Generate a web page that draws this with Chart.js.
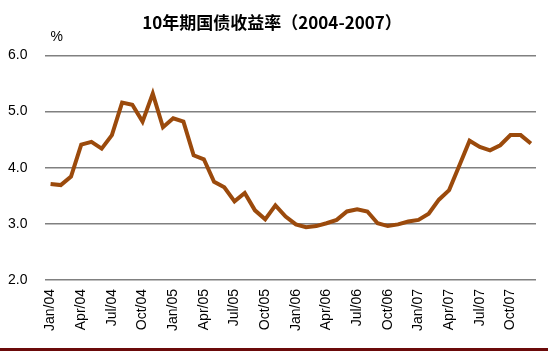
<!DOCTYPE html>
<html>
<head>
<meta charset="utf-8">
<script src="https://cdn.jsdelivr.net/npm/chart.js@4/dist/chart.umd.min.js"></script>
<style>
  html, body { margin: 0; padding: 0; background: #fff; }
  #wrap { position: relative; width: 548px; height: 352px; }
  #bar { position: absolute; left: 0; top: 348px; width: 548px; height: 3px; background: #6b0a0a; }
</style>
</head>
<body>
<div id="wrap">
  <canvas id="graph" width="548" height="346"></canvas>
  <div id="bar"></div>
</div>
<script>
// months Jan/04 .. Dec/07
var months = ['Jan', 'Feb', 'Mar', 'Apr', 'May', 'Jun', 'Jul', 'Aug', 'Sep', 'Oct', 'Nov', 'Dec'];
var years = ['04', '05', '06', '07'];
var categories = [];
years.forEach(function (y) {
    months.forEach(function (m) { categories.push(m + '/' + y); });
});

// 10年期国债收益率 (%)
var yields = [
    3.71, 3.69, 3.84, 4.41, 4.46, 4.34, 4.58, 5.16, 5.12, 4.82, 5.32, 4.72,
    4.88, 4.82, 4.22, 4.15, 3.75, 3.65, 3.40, 3.55, 3.24, 3.08, 3.33, 3.13,
    2.99, 2.94, 2.96, 3.01, 3.07, 3.22, 3.26, 3.22, 3.01, 2.96, 2.99, 3.04,
    3.07, 3.18, 3.43, 3.60, 4.04, 4.48, 4.37, 4.31, 4.40, 4.58, 4.58, 4.43
];

var titleText = '10年期国债收益率（2004-2007）';
var unitText = '%';
var latin = 'Arial, "Liberation Sans", sans-serif';

// draws the "%" unit above the axis
var unitLabel = {
    id: 'unitLabel',
    afterDraw: function (chart) {
        var ctx = chart.ctx;
        ctx.save();
        ctx.font = '14px ' + latin;
        ctx.fillStyle = '#000';
        ctx.textAlign = 'left';
        ctx.textBaseline = 'middle';
        ctx.fillText(unitText, chart.chartArea.left + 5, 37);
        ctx.restore();
    }
};

new Chart(document.getElementById('graph'), {
    type: 'line',
    data: {
        labels: categories,
        datasets: [{
            data: yields,
            borderColor: '#9b4a0c',
            borderWidth: 4,
            pointRadius: 0,
            tension: 0,
            fill: false
        }]
    },
    options: {
        responsive: false,
        animation: false,
        layout: { padding: { left: 8, right: 12, top: 0, bottom: 6 } },
        plugins: {
            legend: { display: false },
            tooltip: { enabled: false },
            title: {
                display: true,
                text: titleText,
                color: '#000',
                font: { family: '"Noto Sans CJK SC", sans-serif', size: 17, weight: 'bold' },
                padding: { top: 12, bottom: 23 }
            }
        },
        scales: {
            x: {
                offset: true,
                grid: { display: false, drawTicks: false },
                border: { display: false },
                afterFit: function (scale) { scale.paddingRight = 0; },
                ticks: {
                    autoSkip: false,
                    maxRotation: 90,
                    minRotation: 90,
                    padding: 9,
                    color: '#000',
                    font: { family: latin, size: 14 },
                    callback: function (v, i) { return i % 3 === 0 ? categories[i] : ''; }
                }
            },
            y: {
                min: 2,
                max: 6,
                grid: { color: '#808080', lineWidth: 1.5, drawTicks: false },
                border: { display: false },
                ticks: {
                    stepSize: 1,
                    padding: 9,
                    crossAlign: 'far',
                    color: '#000',
                    font: { family: latin, size: 14 },
                    callback: function (v) { return v.toFixed(1); }
                }
            }
        }
    },
    plugins: [unitLabel]
});
</script>
</body>
</html>
